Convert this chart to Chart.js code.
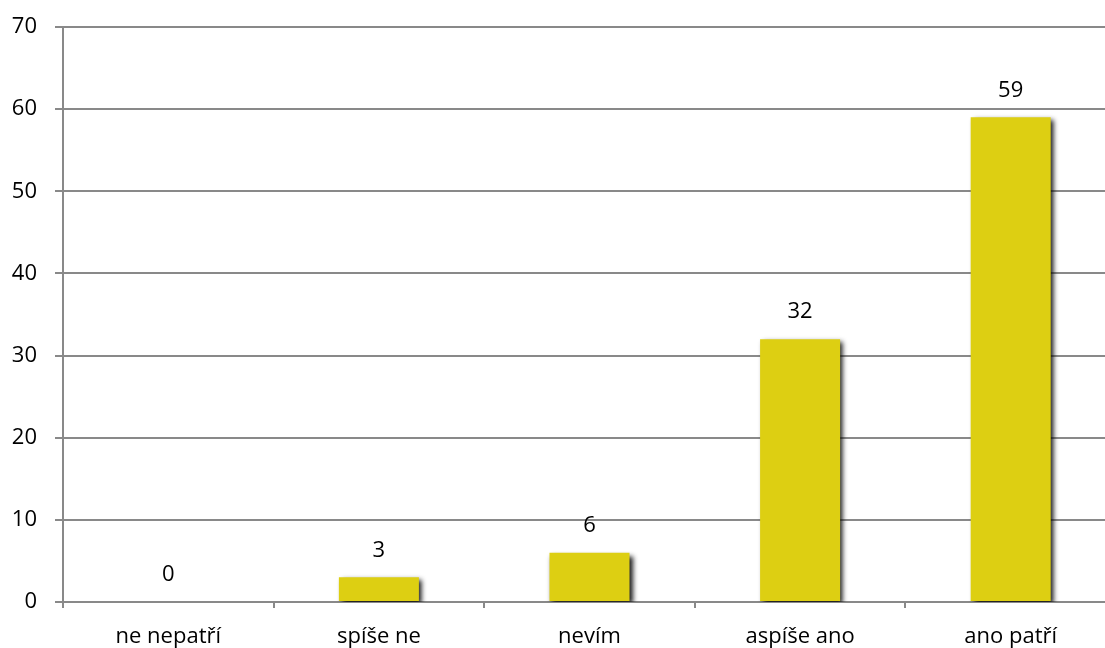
<!DOCTYPE html>
<html>
<head>
<meta charset="utf-8">
<script src="https://cdn.jsdelivr.net/npm/chart.js@4/dist/chart.umd.min.js"></script>
<style>
html,body{margin:0;padding:0;background:#fff;overflow:hidden;}
#wrap{width:1116px;height:648px;position:relative;}
</style>
</head>
<body>
<div id="wrap"><canvas id="c" width="1116" height="648"></canvas></div>
<script>
const categories = ["ne nepatří", "spíše ne", "nevím", "aspíše ano", "ano patří"];
const values = [0, 3, 6, 32, 59];
const yTicks = [0, 10, 20, 30, 40, 50, 60, 70];

const FONT = "'Open Sans', sans-serif";
const FSIZE = 22;

const shadowPlugin = {
  id: 'shadow',
  beforeDatasetDraw(chart) {
    const ctx = chart.ctx;
    ctx.save();
    ctx.shadowColor = 'rgba(0,0,0,0.9)';
    ctx.shadowBlur = 5;
    ctx.shadowOffsetX = 3;
    ctx.shadowOffsetY = 3;
  },
  afterDatasetDraw(chart) {
    chart.ctx.restore();
  }
};

const labelPlugin = {
  id: 'valueLabels',
  afterDatasetsDraw(chart) {
    const ctx = chart.ctx;
    const meta = chart.getDatasetMeta(0);
    ctx.save();
    ctx.font = FSIZE + "px " + FONT;
    ctx.fillStyle = '#000';
    ctx.textAlign = 'center';
    ctx.textBaseline = 'middle';
    meta.data.forEach((bar, i) => {
      ctx.fillText(String(values[i]), bar.x, bar.y - 27);
    });
    ctx.restore();
  }
};

new Chart(document.getElementById('c'), {
  type: 'bar',
  data: {
    labels: categories,
    datasets: [{
      data: values,
      backgroundColor: '#DDCF12',
      borderWidth: 0,
      barPercentage: 0.38,
      categoryPercentage: 1.0
    }]
  },
  options: {
    responsive: false,
    animation: false,
    layout: { padding: { top: 27, right: 0, left: 0, bottom: 0 } },
    plugins: { legend: { display: false }, tooltip: { enabled: false } },
    scales: {
      x: {
        offset: true,
        grid: {
          offset: true,
          drawOnChartArea: false,
          drawTicks: true,
          tickLength: 6,
          color: '#898989',
          lineWidth: 2
        },
        border: { color: '#898989', width: 2 },
        ticks: { color: '#000', font: { family: FONT, size: FSIZE }, padding: 16, maxRotation: 0 },
        afterFit(s) { s.height = 46; s.paddingLeft = 0; s.paddingRight = 0; }
      },
      y: {
        min: 0, max: 70,
        afterBuildTicks(s) { s.ticks = yTicks.map(v => ({ value: v })); },
        grid: { color: '#898989', lineWidth: 2, tickLength: 8 },
        border: { color: '#898989', width: 2 },
        ticks: { color: '#000', font: { family: FONT, size: FSIZE }, padding: 18 },
        afterFit(s) { s.width = 63; s.paddingTop = 0; s.paddingBottom = 0; }
      }
    }
  },
  plugins: [shadowPlugin, labelPlugin]
});
</script>
</body>
</html>
